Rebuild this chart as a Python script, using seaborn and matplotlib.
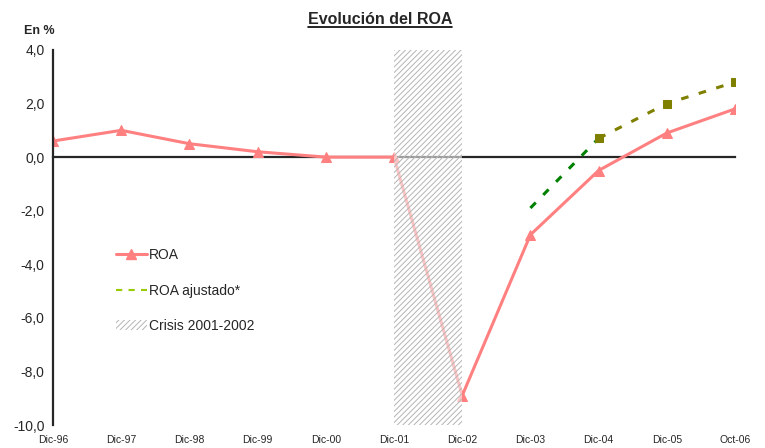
import numpy as np
import pandas as pd
import seaborn as sns
import matplotlib
matplotlib.use('Agg')
import matplotlib.pyplot as plt
from matplotlib.lines import Line2D
from matplotlib.patches import Patch

fechas = ['Dic-96', 'Dic-97', 'Dic-98', 'Dic-99', 'Dic-00', 'Dic-01',
          'Dic-02', 'Dic-03', 'Dic-04', 'Dic-05', 'Oct-06']
roa = [0.6, 1.0, 0.5, 0.2, 0.0, 0.0, -8.9, -2.9, -0.5, 0.9, 1.8]
# ROA ajustado: first stretch (Dic-03 -> Dic-04) and the rest with markers
roa_aj_ini = [np.nan] * 7 + [-1.9, 0.7, np.nan, np.nan]
roa_aj = [np.nan] * 8 + [0.7, 2.0, 2.8]
crisis = ('Dic-01', 'Dic-02')
yticks = np.arange(-10, 5, 2)

sns.set_style('white')
plt.rcParams['font.family'] = ['Liberation Sans', 'DejaVu Sans']
plt.rcParams['hatch.linewidth'] = 0.7

df = pd.DataFrame({'x': np.arange(len(fechas)), 'roa': roa,
                   'aj_ini': roa_aj_ini, 'aj': roa_aj})

fig = plt.figure(figsize=(7.65, 4.48), dpi=100)
ax = fig.add_axes([0.0693, 0.0513, 0.8915, 0.8372])

sns.lineplot(data=df, x='x', y='roa', ax=ax, color='#FF8080', lw=2.2,
             marker='^', markersize=7, markeredgecolor='#FF8080', zorder=2)
sns.lineplot(data=df, x='x', y='aj_ini', ax=ax, color='#008000', lw=2.2,
             dashes=(2.5, 3.5), zorder=2)
sns.lineplot(data=df, x='x', y='aj', ax=ax, color='#808000', lw=2.2,
             marker='s', markersize=6, markeredgecolor='#808000',
             zorder=2).lines[-1].set_dashes((2.5, 3.5))

x0, x1 = fechas.index(crisis[0]), fechas.index(crisis[1])
ax.axvspan(x0, x1, facecolor='white', alpha=0.55, lw=0, zorder=3)
ax.axvspan(x0, x1, facecolor='none', edgecolor='#b4b4b4', hatch='//////',
           lw=0, zorder=3)

ax.set_xlim(0, len(fechas) - 1)
ax.set_ylim(-10, 4)
ax.set_yticks(yticks)
ax.set_yticklabels([f'{v:.1f}'.replace('.', ',') for v in yticks])
ax.set_xticks(df['x'])
ax.set_xticklabels(fechas)
ax.set_xlabel('')
ax.set_ylabel('')

for s in ['top', 'right']:
    ax.spines[s].set_visible(False)
ax.spines['bottom'].set_position(('data', 0))
ax.spines['bottom'].set_linewidth(1.6)
ax.spines['bottom'].set_zorder(1)
ax.spines['left'].set_linewidth(1.6)
ax.tick_params(axis='y', direction='out', length=4, width=1.6, pad=2,
               labelsize=10)
ax.tick_params(axis='x', direction='out', length=3, width=1.6, pad=197,
               labelsize=7.5)
for lab in ax.get_xticklabels():
    lab.set_fontstretch('condensed')

t = fig.text(0.497, 0.957, 'Evolución del ROA', ha='center', va='center',
             fontsize=11.5, fontweight='bold')
fig.canvas.draw()
bb = t.get_window_extent()
fig.add_artist(Line2D([bb.x0 / fig.bbox.width, bb.x1 / fig.bbox.width],
                      [(bb.y0 - 0.5) / fig.bbox.height] * 2,
                      color='black', lw=1.2))
fig.text(0.032, 0.93, 'En %', ha='left', va='center', fontsize=9,
         fontweight='bold')

handles = [
    Line2D([], [], color='#FF8080', lw=2.2, marker='^', markersize=7),
    Line2D([], [], color='#99CC00', lw=1.5, dashes=(3, 3)),
    Patch(facecolor='white', edgecolor='#b4b4b4', hatch='//////', lw=0),
]
ax.legend(handles, ['ROA', 'ROA ajustado*', 'Crisis 2001-2002'],
          loc='upper left', bbox_to_anchor=(0.074, 0.505), frameon=False,
          fontsize=10, handlelength=2.2, handletextpad=0.2, labelspacing=1.55)

fig.savefig('out.png', dpi=100)
